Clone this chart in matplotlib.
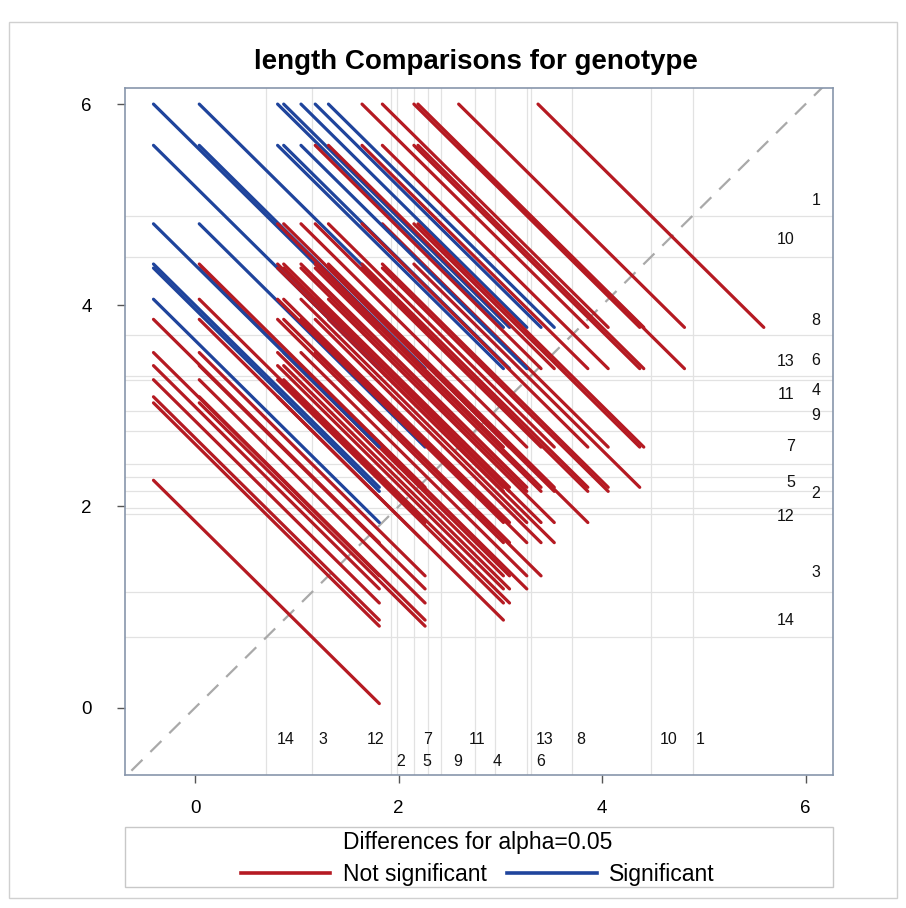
import numpy as np
import matplotlib
matplotlib.use("Agg")
import matplotlib.pyplot as plt
from matplotlib.patches import Rectangle
from matplotlib.lines import Line2D
from matplotlib.transforms import blended_transform_factory

plt.rcParams['font.family'] = ['Liberation Sans', 'DejaVu Sans']

# LS-means of length by genotype
genotype = ['1', '2', '3', '4', '5', '6', '7', '8', '9', '10', '11', '12', '13', '14']
lsmean = [4.89, 1.98, 1.15, 2.95, 2.15, 3.30, 2.29, 3.70, 2.42, 4.48, 2.75, 1.92, 3.26, 0.70]
lsd = 2.22      # half-width of the CI for a difference
alpha = 0.05

# where the level labels sit (row/column and nudge in pixels)
xlab_row = [0, 1, 0, 1, 1, 1, 0, 0, 1, 0, 0, 0, 0, 0]
xlab_dx = [8, 4, 11, 2, 13, 10, -1, 9, 16, 18, 2, -15, 18, 19]
ylab_col = [0, 0, 0, 0, 1, 0, 1, 0, 0, 1, 1, 1, 1, 1]
ylab_dy = [15, 15, 19, 20, 9, 15, 31, 15, 49, 17, 36, -2, 18, 17]

RED = '#b51a22'
BLUE = '#1f449c'
REF = '#e2e2e2'

fig = plt.figure(figsize=(9.06, 9.08), dpi=100)
fig.patches.append(Rectangle((9 / 906, 1 - 898 / 908), 888 / 906, 876 / 908,
                             transform=fig.transFigure, fill=False,
                             edgecolor='#d0d0d0', lw=1.0))

ax = fig.add_axes([125 / 906, 1 - 775 / 908, 708 / 906, 687 / 908])
lim_x = (-0.69, 6.27)
lim_y = (-0.67, 6.16)
ax.set_xlim(*lim_x)
ax.set_ylim(*lim_y)

for m in lsmean:
    ax.axvline(m, color=REF, lw=0.9, zorder=0)
    ax.axhline(m, color=REF, lw=0.9, zorder=0)

ax.plot([-1, 7], [-1, 7], color='#a9a9a9', lw=1.6, ls=(0, (7, 5)), zorder=1)

h = lsd / 2
n = len(lsmean)
for i in range(n):
    for j in range(i + 1, n):
        lo = min(lsmean[i], lsmean[j])
        hi = max(lsmean[i], lsmean[j])
        sig = (hi - lo) > lsd
        ax.plot([lo - h, lo + h], [hi + h, hi - h], color=BLUE if sig else RED,
                lw=2.3, solid_capstyle='round', zorder=2)

# level labels along the bottom and the right side
tb = blended_transform_factory(ax.transData, ax.transAxes)
tr = blended_transform_factory(ax.transAxes, ax.transData)
row_y = [0.051, 0.019]
col_x = [0.982, 0.946]
for k, g in enumerate(genotype):
    ax.annotate(g, xy=(lsmean[k], row_y[xlab_row[k]]), xycoords=tb,
                xytext=(xlab_dx[k], 0), textcoords='offset pixels',
                ha='center', va='center', fontsize=11.5, color='#111111')
    ax.annotate(g, xy=(col_x[ylab_col[k]], lsmean[k]), xycoords=tr,
                xytext=(0, ylab_dy[k]), textcoords='offset pixels',
                ha='right', va='center', fontsize=11.5, color='#111111')

ax.set_xticks([0, 2, 4, 6])
ax.set_yticks([0, 2, 4, 6])
ax.tick_params(direction='out', length=6, width=1, color='#555555',
               labelsize=13.5)
ax.tick_params(axis='x', pad=12)
ax.tick_params(axis='y', pad=18)
for s in ax.spines.values():
    s.set_color('#8796ab')
    s.set_linewidth(1.2)

fig.text(476 / 906, 1 - 62 / 908, 'length Comparisons for genotype', ha='center',
         va='center', fontsize=20, fontweight='bold')

# legend box
fig.patches.append(Rectangle((125 / 906, 1 - 887 / 908), 708 / 906, 60 / 908,
                             transform=fig.transFigure, fill=False,
                             edgecolor='#c8c8c8', lw=1.0))
fig.text(343 / 906, 1 - 843 / 908, f'Differences for alpha={alpha:.2f}',
         ha='left', va='center', fontsize=16.5)
handles = [Line2D([], [], color=RED, lw=2.6), Line2D([], [], color=BLUE, lw=2.6)]
fig.legend(handles, ['Not significant', 'Significant'], loc='center',
           bbox_to_anchor=(478 / 906, 1 - 875 / 908), ncol=2, frameon=False,
           fontsize=16.5, handlelength=3.9, handletextpad=0.55,
           columnspacing=0.9, borderpad=0, borderaxespad=0)

fig.savefig('out.png', dpi=100)
